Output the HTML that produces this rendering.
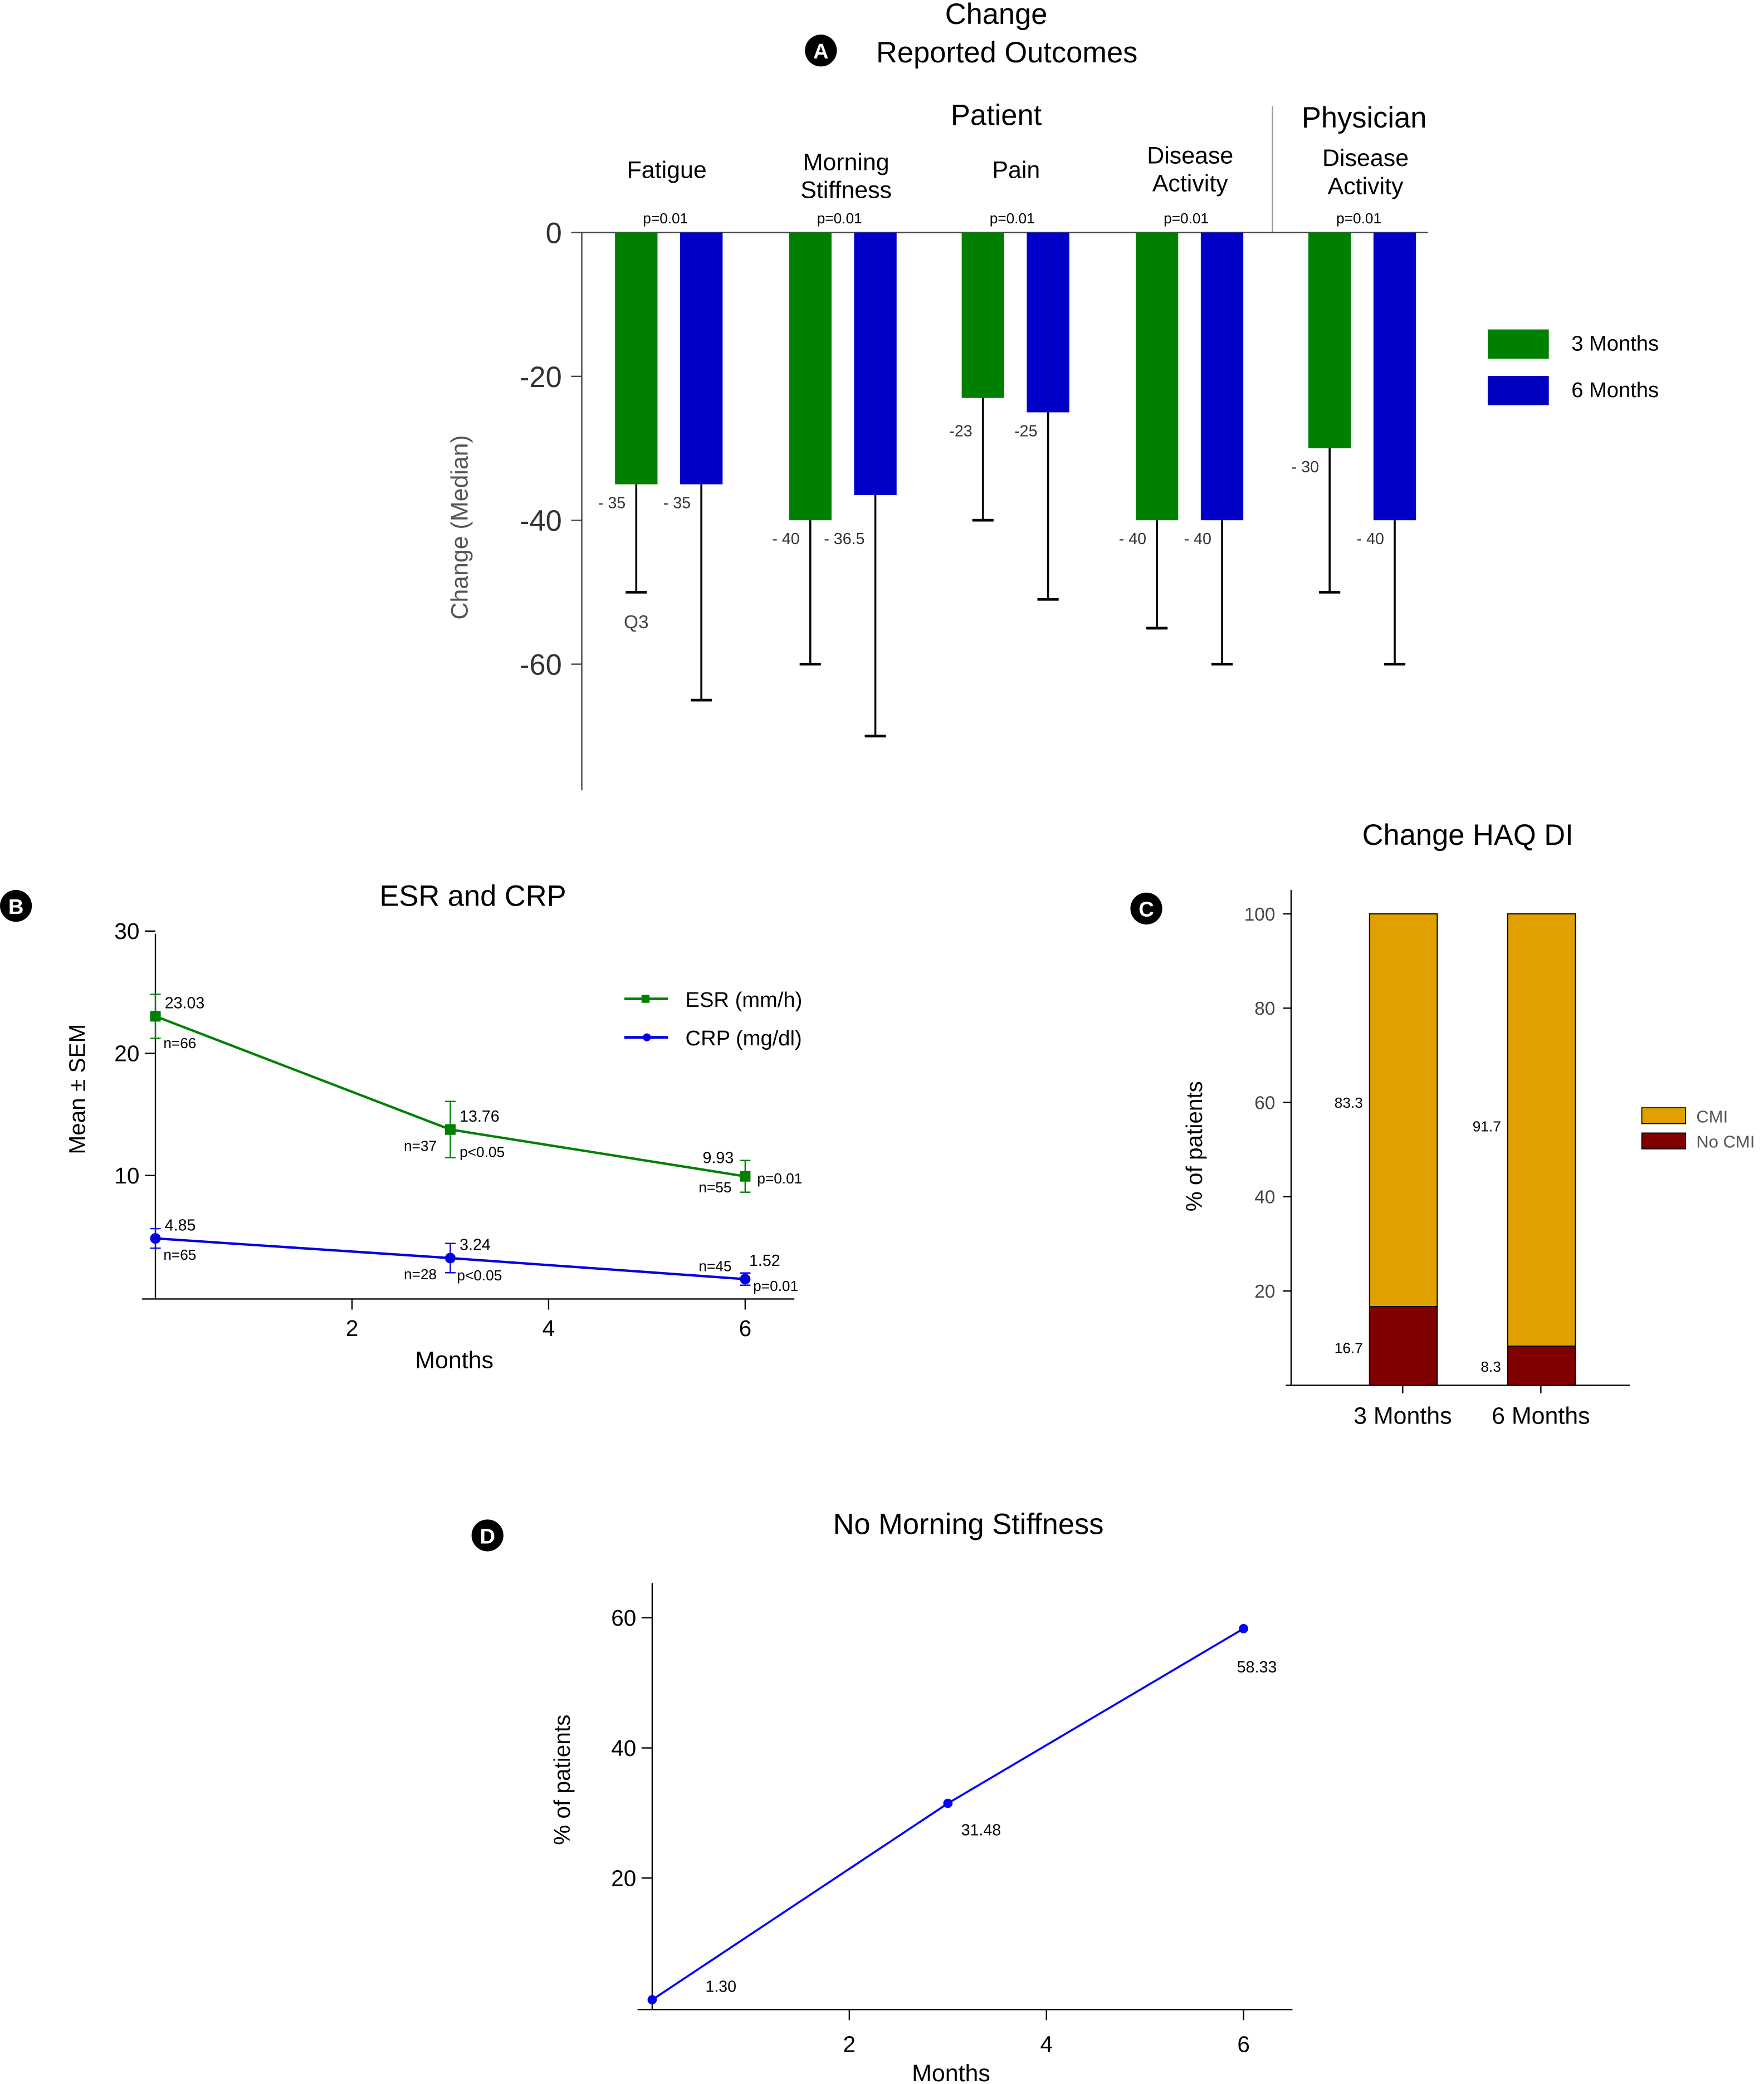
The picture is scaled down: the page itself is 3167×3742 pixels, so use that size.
<!DOCTYPE html>
<html><head><meta charset="utf-8"><style>
html,body{margin:0;padding:0;background:#fff}
svg{display:block;font-family:"Liberation Sans",Arial,sans-serif}
</style></head><body>
<svg id="s" width="3167" height="3742" viewBox="0 0 1328 1569" xmlns="http://www.w3.org/2000/svg">
<g id="pa">
<circle cx="618" cy="38" r="12" fill="#000"/><text x="618" y="44" font-size="16" font-weight="bold" fill="#fff" text-anchor="middle">A</text>
<text x="750" y="18" font-size="22" text-anchor="middle">Change</text>
<text x="758" y="47" font-size="22" text-anchor="middle">Reported Outcomes</text>
<text x="750" y="94" font-size="22" text-anchor="middle">Patient</text>
<text x="1027" y="96" font-size="22" text-anchor="middle">Physician</text>
<line x1="958" y1="80" x2="958" y2="175" stroke="#999"/>
<text x="352" y="397" font-size="18" fill="#555" text-anchor="middle" transform="rotate(-90 352 397)">Change (Median)</text>
<g>
<rect x="1120" y="248" width="46" height="22" fill="#008000"/><text x="1183" y="264" font-size="16">3 Months</text>
<rect x="1120" y="283" width="46" height="22" fill="#0000c0"/><text x="1183" y="299" font-size="16">6 Months</text>
</g>
</g>
<g id="pb">
<circle cx="12" cy="682" r="12" fill="#000"/><text x="12" y="688" font-size="16" font-weight="bold" fill="#fff" text-anchor="middle">B</text>
<text x="356" y="682" font-size="22" text-anchor="middle">ESR and CRP</text>
<text x="64" y="820" font-size="17" text-anchor="middle" transform="rotate(-90 64 820)">Mean ± SEM</text>
<text x="342" y="1030" font-size="18" text-anchor="middle">Months</text>
<g>
<line x1="470" y1="752" x2="503" y2="752" stroke="#008000" stroke-width="2"/><rect x="483" y="749" width="6" height="6" fill="#008000"/><text x="516" y="758" font-size="16">ESR (mm/h)</text>
<line x1="470" y1="781" x2="503" y2="781" stroke="#0000e0" stroke-width="2"/><circle cx="487" cy="781" r="3" fill="#0000e0"/><text x="516" y="787" font-size="16">CRP (mg/dl)</text>
</g>
</g>
<g id="pc">
<circle cx="863" cy="684" r="12" fill="#000"/><text x="863" y="690" font-size="16" font-weight="bold" fill="#fff" text-anchor="middle">C</text>
<text x="1105" y="636" font-size="22" text-anchor="middle">Change HAQ DI</text>
<text x="905" y="863" font-size="17" text-anchor="middle" transform="rotate(-90 905 863)">% of patients</text>
<g>
<rect x="1236" y="834" width="33" height="12" fill="#e0a000" stroke="#000" stroke-width="0.7"/><text x="1277" y="845" font-size="13" fill="#555">CMI</text>
<rect x="1236" y="853" width="33" height="12" fill="#800000" stroke="#000" stroke-width="0.7"/><text x="1277" y="864" font-size="13" fill="#555">No CMI</text>
</g>
</g>
<g id="pd">
<circle cx="367" cy="1156" r="12" fill="#000"/><text x="367" y="1162" font-size="16" font-weight="bold" fill="#fff" text-anchor="middle">D</text>
<text x="729" y="1155" font-size="22" text-anchor="middle">No Morning Stiffness</text>
<text x="429" y="1340" font-size="17" text-anchor="middle" transform="rotate(-90 429 1340)">% of patients</text>
<text x="716" y="1567" font-size="18" text-anchor="middle">Months</text>
</g>
</svg>
<script>
const NS='http://www.w3.org/2000/svg';
function mk(parent,tag,attrs,txt){const e=document.createElementNS(NS,tag);for(const k in attrs)e.setAttribute(k,attrs[k]);if(txt!==undefined)e.textContent=txt;parent.appendChild(e);return e;}

// ---- Panel A data ----
const aCategories=['Fatigue','Morning|Stiffness','Pain','Disease|Activity','Disease|Activity'];
const aGreen=[-35,-40,-23,-40,-30];
const aBlue=[-35,-36.5,-25,-40,-40];
const aGreenQ3=[-50,-60,-40,-55,-50];
const aBlueQ3=[-65,-70,-51,-60,-60];
const aGreenLabels=['- 35','- 40','-23','- 40','- 30'];
const aBlueLabels=['- 35','- 36.5','-25','- 40','- 40'];
const aTicks=[0,-20,-40,-60];
// ---- Panel B data ----
const bMonths=[0,3,6];
const esr=[23.03,13.76,9.93];
const esrSem=[1.8,2.3,1.3];
const crp=[4.85,3.24,1.52];
const crpSem=[0.8,1.2,0.5];
const esrN=['n=66','n=37','n=55'];
const crpN=['n=65','n=28','n=45'];
const bYTicks=[10,20,30];
const bXTicks=[2,4,6];
// ---- Panel C data ----
const cCategories=['3 Months','6 Months'];
const cCMI=[83.3,91.7];
const cNoCMI=[16.7,8.3];
const cTicks=[20,40,60,80,100];
// ---- Panel D data ----
const dMonths=[0,3,6];
const dValues=[1.30,31.48,58.33];
const dYTicks=[20,40,60];
const dXTicks=[2,4,6];

// Panel A
(function(){
const g=document.getElementById('pa');
const y=v=>175-v*(325/60);
mk(g,'line',{x1:438,y1:175,x2:438,y2:595,stroke:'#444'});
mk(g,'line',{x1:438,y1:175,x2:1075,y2:175,stroke:'#444'});
aTicks.forEach(t=>{mk(g,'line',{x1:430,y1:y(t),x2:438,y2:y(t),stroke:'#444'});
const tl=mk(g,'text',{x:423,y:y(t)+8,'font-size':22,'text-anchor':'end',fill:'#333'},String(t));

});
const starts=[463,594,724,855,985], catX=[502,637,765,896,1028], catY=[134,128,134,123,125];
aCategories.forEach((c,i)=>{
 const lines=c.split('|');
 lines.forEach((l,j)=>mk(g,'text',{x:catX[i],y:catY[i]+j*21,'font-size':18,'text-anchor':'middle'},l));
 mk(g,'text',{x:starts[i]+38,y:168,'font-size':11,'text-anchor':'middle'},'p=0.01');
 [[aGreen,aGreenQ3,'#008000',0,aGreenLabels,aBlue],[aBlue,aBlueQ3,'#0000c8',49,aBlueLabels,aGreen]].forEach(([vals,q3,col,off,labs,other])=>{
  const x=starts[i]+off, cx=x+16;
  const r=mk(g,'rect',{x:x,y:175,width:32,height:y(vals[i])-175,fill:col});
  
  
  mk(g,'line',{x1:cx,y1:y(vals[i]),x2:cx,y2:y(q3[i]),stroke:'#000','stroke-width':1.5});
  mk(g,'line',{x1:cx-8,y1:y(q3[i]),x2:cx+8,y2:y(q3[i]),stroke:'#000','stroke-width':2});
  const lv=Math.abs(vals[i]-other[i])<5?Math.min(vals[i],other[i]):vals[i];
  mk(g,'text',{x:cx-8,y:y(lv)+18,'font-size':12,'text-anchor':'end',fill:'#333'},labs[i]);
 });
});
mk(g,'text',{x:479,y:473,'font-size':14,'text-anchor':'middle',fill:'#444'},'Q3');
})();

// Panel B
(function(){
const g=document.getElementById('pb');
const x=m=>117+m*74, y=v=>977-v*9.2;
mk(g,'line',{x1:117,y1:703,x2:117,y2:978,stroke:'#000'});
mk(g,'line',{x1:107,y1:978,x2:598,y2:978,stroke:'#000'});
bYTicks.forEach(t=>{mk(g,'line',{x1:109,y1:y(t),x2:117,y2:y(t),stroke:'#000'});mk(g,'text',{x:105,y:y(t)+6,'font-size':17,'text-anchor':'end'},String(t));});
bXTicks.forEach(t=>{mk(g,'line',{x1:x(t),y1:978,x2:x(t),y2:986,stroke:'#000'});mk(g,'text',{x:x(t),y:1006,'font-size':17,'text-anchor':'middle'},String(t));});
[[esr,esrSem,'#008000','esr',esrN,true],[crp,crpSem,'#0000e0','crp',crpN,false]].forEach(([vals,sem,col,nm,ns,sq])=>{
 const pl=mk(g,'polyline',{points:vals.map((v,i)=>x(bMonths[i])+','+y(v)).join(' '),fill:'none',stroke:col,'stroke-width':1.8});
 
 
 vals.forEach((v,i)=>{const cx=x(bMonths[i]),cy=y(v);
  mk(g,'line',{x1:cx,y1:y(v+sem[i]),x2:cx,y2:y(v-sem[i]),stroke:col});
  mk(g,'line',{x1:cx-4,y1:y(v+sem[i]),x2:cx+4,y2:y(v+sem[i]),stroke:col});
  mk(g,'line',{x1:cx-4,y1:y(v-sem[i]),x2:cx+4,y2:y(v-sem[i]),stroke:col});
  const p=sq?mk(g,'rect',{x:cx-4,y:cy-4,width:8,height:8,fill:col}):mk(g,'circle',{cx:cx,cy:cy,r:4,fill:col});
  
  
  const lx=i==2?(sq?cx-32:cx+3):cx+7;
  mk(g,'text',{x:lx,y:cy-(i==2?10:6),'font-size':12},v.toFixed(2));
  mk(g,'text',{x:i==0?cx+6:cx-35,y:cy+(i==0?(sq?24:16):(i==1?16:(sq?12:-6))),'font-size':11},ns[i]);
 });
});
mk(g,'text',{x:346,y:871,'font-size':11},'p<0.05');
mk(g,'text',{x:570,y:891,'font-size':11},'p=0.01');
mk(g,'text',{x:344,y:964,'font-size':11},'p<0.05');
mk(g,'text',{x:567,y:972,'font-size':11},'p=0.01');
})();

// Panel C
(function(){
const g=document.getElementById('pc');
const y=v=>1043-v*3.55;
mk(g,'line',{x1:972,y1:670,x2:972,y2:1043,stroke:'#000'});
mk(g,'line',{x1:968,y1:1043,x2:1227,y2:1043,stroke:'#000'});
cTicks.forEach(t=>{mk(g,'line',{x1:966,y1:y(t),x2:972,y2:y(t),stroke:'#000'});mk(g,'text',{x:960,y:y(t)+5,'font-size':14,'text-anchor':'end',fill:'#444'},String(t));});
const bx=[1031,1135];
cCategories.forEach((c,i)=>{
 const r1=mk(g,'rect',{x:bx[i],y:y(cNoCMI[i]),width:51,height:1043-y(cNoCMI[i]),fill:'#800000',stroke:'#000','stroke-width':0.8});
 
 
 const r2=mk(g,'rect',{x:bx[i],y:y(cNoCMI[i]+cCMI[i]),width:51,height:y(cNoCMI[i])-y(cNoCMI[i]+cCMI[i]),fill:'#e0a000',stroke:'#000','stroke-width':0.8});
 
 
 mk(g,'line',{x1:bx[i]+25,y1:1043,x2:bx[i]+25,y2:1049,stroke:'#000'});
 mk(g,'text',{x:bx[i]+25,y:1072,'font-size':18,'text-anchor':'middle'},c);
 mk(g,'text',{x:bx[i]-5,y:(i?y(55):y(60))+4,'font-size':11,'text-anchor':'end'},String(cCMI[i]));
 mk(g,'text',{x:bx[i]-5,y:(i?y(4):y(8))+4,'font-size':11,'text-anchor':'end'},String(cNoCMI[i]));
});
})();

// Panel D
(function(){
const g=document.getElementById('pd');
const x=m=>491+m*74.2, y=v=>1512-v*4.9;
mk(g,'line',{x1:491,y1:1192,x2:491,y2:1513,stroke:'#000'});
mk(g,'line',{x1:480,y1:1513,x2:973,y2:1513,stroke:'#000'});
dYTicks.forEach(t=>{mk(g,'line',{x1:483,y1:y(t),x2:491,y2:y(t),stroke:'#000'});mk(g,'text',{x:479,y:y(t)+6,'font-size':17,'text-anchor':'end'},String(t));});
dXTicks.forEach(t=>{mk(g,'line',{x1:x(t),y1:1513,x2:x(t),y2:1521,stroke:'#000'});mk(g,'text',{x:x(t),y:1545,'font-size':17,'text-anchor':'middle'},String(t));});
const pl=mk(g,'polyline',{points:dValues.map((v,i)=>x(dMonths[i])+','+y(v)).join(' '),fill:'none',stroke:'#0000ff','stroke-width':1.5});


dValues.forEach((v,i)=>{
 const c=mk(g,'circle',{cx:x(dMonths[i]),cy:y(v),r:3.5,fill:'#0000ff'});
 
 
 mk(g,'text',{x:x(dMonths[i])+(i==0?40:i==1?10:-5),y:y(v)+(i==0?-6:(i==1?24:33)),'font-size':12},v.toFixed(2));
});
})();
</script>
</body></html>
